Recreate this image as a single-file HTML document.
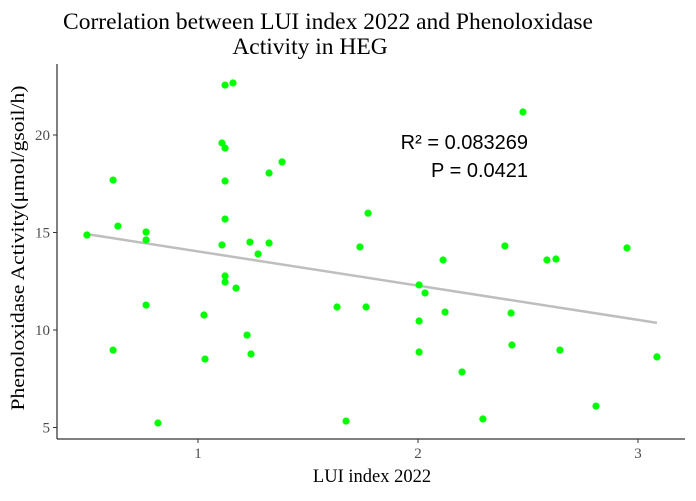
<!DOCTYPE html>
<html><head><meta charset="utf-8"><style>
body{margin:0;background:#fff;width:696px;height:496px;overflow:hidden}
svg text{font-family:"Liberation Serif",serif}
</style></head><body>
<svg id="chart" width="696" height="496" xmlns="http://www.w3.org/2000/svg">
<text x="328" y="29" font-size="23.5" text-anchor="middle" fill="#000">Correlation between LUI index 2022 and Phenoloxidase</text>
<text x="310" y="54" font-size="23.5" text-anchor="middle" fill="#000">Activity in HEG</text>
<line x1="57" y1="64" x2="57" y2="439" stroke="#000" stroke-width="1"/>
<line x1="57" y1="439" x2="685" y2="439" stroke="#000" stroke-width="1"/>
<g id="ticks"></g>
<g id="fit"></g>
<g id="points"></g>
<text x="528" y="149" font-size="20" text-anchor="end" style="font-family:'Liberation Sans',sans-serif">R² = 0.083269</text>
<text x="528" y="177" font-size="20" text-anchor="end" style="font-family:'Liberation Sans',sans-serif">P = 0.0421</text>
<text x="372" y="482" font-size="18.5" text-anchor="middle">LUI index 2022</text>
<text transform="translate(24,248) rotate(-90)" font-size="19" text-anchor="middle" textLength="325" lengthAdjust="spacingAndGlyphs">Phenoloxidase Activity(μmol/gsoil/h)</text>
</svg>
<script>
const luiValues=[0.495,0.614,0.636,0.614,0.764,0.764,0.764,0.818,1.027,1.032,1.109,1.109,1.123,1.123,1.159,1.123,1.123,1.123,1.123,1.173,1.223,1.236,1.241,1.273,1.323,1.323,1.382,1.632,1.673,1.736,1.764,1.773,2.005,2.005,2.005,2.032,2.114,2.123,2.200,2.295,2.395,2.423,2.427,2.477,2.586,2.627,2.645,2.809,2.950,3.086];
const phenolValues=[14.87,17.69,15.33,8.97,15.03,14.62,11.28,5.23,10.77,8.51,14.36,19.59,19.33,22.56,22.67,17.64,15.69,12.77,12.46,12.15,9.74,14.51,8.77,13.90,18.05,14.46,18.62,11.18,5.33,14.26,11.18,15.99,12.31,10.46,8.87,11.90,13.59,10.92,7.85,5.44,14.31,10.87,9.23,21.18,13.59,13.64,8.97,6.10,14.21,8.62];
const xTicks=[1,2,3];
const yTicks=[5,10,15,20];
const X=v=>198+(v-1)*220;
const Y=v=>135-(v-20)*19.5;
const NS="http://www.w3.org/2000/svg";
const tg=document.getElementById('ticks');
xTicks.forEach(t=>{
 const l=document.createElementNS(NS,'line');
 l.setAttribute('x1',X(t));l.setAttribute('x2',X(t));l.setAttribute('y1',439);l.setAttribute('y2',443);l.setAttribute('stroke','#333');
 
 
 tg.appendChild(l);
 const tx=document.createElementNS(NS,'text');
 tx.setAttribute('x',X(t));tx.setAttribute('y',458);tx.setAttribute('font-size','15');tx.setAttribute('text-anchor','middle');tx.setAttribute('fill','#4d4d4d');tx.textContent=t;
 
 
 tg.appendChild(tx);
});
yTicks.forEach(t=>{
 const l=document.createElementNS(NS,'line');
 l.setAttribute('x1',53);l.setAttribute('x2',57);l.setAttribute('y1',Y(t));l.setAttribute('y2',Y(t));l.setAttribute('stroke','#333');
 
 
 tg.appendChild(l);
 const tx=document.createElementNS(NS,'text');
 tx.setAttribute('x',50);tx.setAttribute('y',Y(t)+5);tx.setAttribute('font-size','15');tx.setAttribute('text-anchor','end');tx.setAttribute('fill','#4d4d4d');tx.textContent=t;
 
 
 tg.appendChild(tx);
});
const n=luiValues.length;
const mx=luiValues.reduce((a,b)=>a+b,0)/n, my=phenolValues.reduce((a,b)=>a+b,0)/n;
let sxy=0,sxx=0;
for(let i=0;i<n;i++){sxy+=(luiValues[i]-mx)*(phenolValues[i]-my);sxx+=(luiValues[i]-mx)**2;}
const b=sxy/sxx,a=my-b*mx;
const xmin=Math.min(...luiValues),xmax=Math.max(...luiValues);
const fl=document.createElementNS(NS,'line');
fl.setAttribute('x1',X(xmin));fl.setAttribute('y1',Y(a+b*xmin));fl.setAttribute('x2',X(xmax));fl.setAttribute('y2',Y(a+b*xmax));
fl.setAttribute('stroke','#bebebe');fl.setAttribute('stroke-width','2.5');


document.getElementById('fit').appendChild(fl);
const pg=document.getElementById('points');
for(let i=0;i<n;i++){
 const c=document.createElementNS(NS,'circle');
 c.setAttribute('cx',X(luiValues[i]));c.setAttribute('cy',Y(phenolValues[i]));c.setAttribute('r',3.6);c.setAttribute('fill','#00ff00');
 
 
 pg.appendChild(c);
}
</script>
</body></html>
